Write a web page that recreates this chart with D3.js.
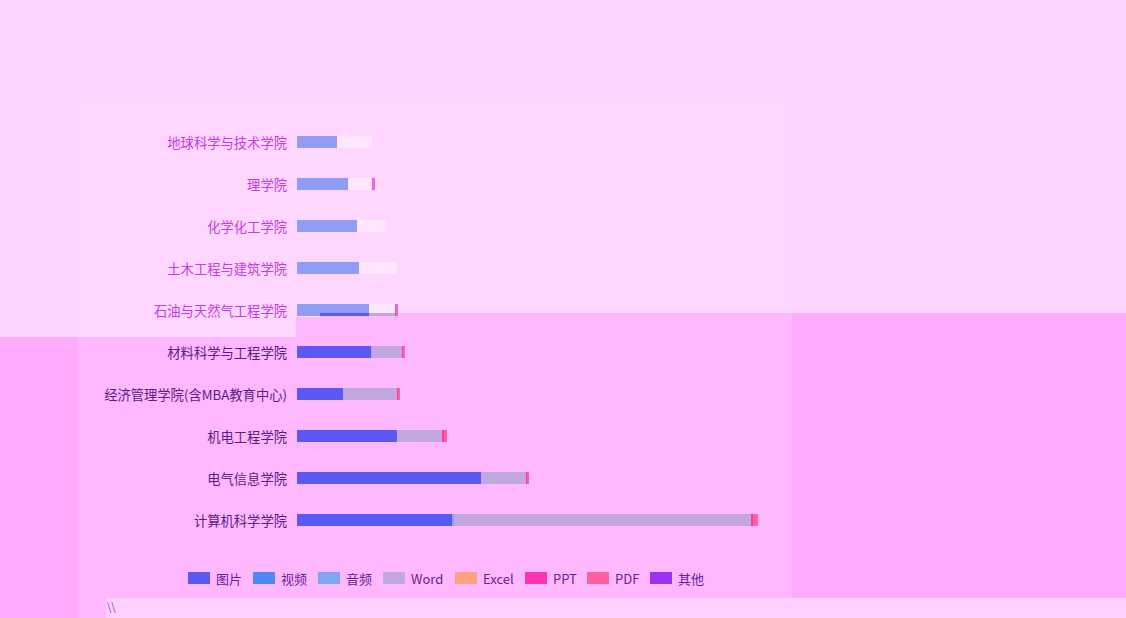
<!DOCTYPE html>
<html><head><meta charset="utf-8">
<script src="https://cdn.jsdelivr.net/npm/d3@7/dist/d3.min.js"></script>
<style>html,body{margin:0;padding:0;background:#ffaafc;overflow:hidden}svg{display:block}</style>
</head><body>
<svg id="c" width="1126" height="618"></svg>
<script>
const categories = ["地球科学与技术学院","理学院","化学化工学院","土木工程与建筑学院","石油与天然气工程学院","材料科学与工程学院","经济管理学院(含MBA教育中心)","机电工程学院","电气信息学院","计算机科学学院"];
const seriesNames = ["图片","视频","音频","Word","Excel","PPT","PDF","其他"];
const imgVals   = [40, 51, 60, 62, 72, 74, 46, 100, 184, 155];
const videoVals = [0, 0, 0, 0, 0, 0, 0, 0, 0, 0];
const audioVals = [0, 0, 0, 0, 0, 0, 0, 0, 0, 2];
const wordVals  = [35, 24, 30, 38, 26, 31, 54, 45, 45, 297];
const excelVals = [0, 0, 0, 0, 0, 0, 0, 0, 0, 0];
const pptVals   = [0, 1, 0, 0, 1, 1, 1, 2, 1, 2];
const pdfVals   = [0, 2, 0, 0, 2, 2, 2, 3, 2, 5];
const otherVals = [0, 0, 0, 0, 0, 0, 0, 0, 0, 0];
const seriesVals = [imgVals, videoVals, audioVals, wordVals, excelVals, pptVals, pdfVals, otherVals];

const lowPal = {
  bg:"#ffaafc", panel:"#ffb8ff", panelStroke:"#ffb2fd", label:"#5a1c88", legendText:"#66229a",
  colors:["#5a5af3","#4f86f5","#7fa5f5","#c2a6e0","#ffa07e","#ff32b0","#ff5f9e","#9b32f0"]
};
const topPal = {
  bg:"#ffd4ff", panel:"#ffd6ff", panelStroke:"#ffd0fe", label:"#c23ee2", legendText:"#c23ee2",
  colors:["#8f9df5","#9fb8fb","#b8cafb","#ffe6ff","#ffd0d0","#f25ed2","#f266cc","#cf7af8"]
};

const rows = categories.map((c,i)=>{const o={cat:c}; seriesNames.forEach((s,j)=>o[s]=seriesVals[j][i]); return o;});
const stacked = d3.stack().keys(seriesNames)(rows);

const x = d3.scaleLinear().domain([0, 500]).range([297, 797]);
const y = d3.scalePoint().domain(categories).range([142, 520]);
const barH = 12;

const svg = d3.select("#c");
const font = "'Noto Sans CJK SC','Noto Sans',sans-serif";

function drawChart(g, pal){
  g.append("rect").attr("x",0).attr("y",0).attr("width",1126).attr("height",618).attr("fill",pal.bg);
  g.append("rect").attr("x",78).attr("y",102).attr("width",714).attr("height",520)
    .attr("fill",pal.panel).attr("stroke",pal.panelStroke).attr("stroke-width",1);
  g.selectAll("g.s").data(stacked).join("g").attr("class","s").attr("fill",(d,i)=>pal.colors[i])
    .selectAll("rect").data(d=>d).join("rect")
    .attr("x",d=>x(d[0])).attr("width",d=>Math.max(0,x(d[1])-x(d[0])))
    .attr("y",d=>y(d.data.cat)-barH/2).attr("height",barH);
  g.selectAll("text.lab").data(categories).join("text").attr("class","lab")
    .attr("x",287).attr("y",d=>y(d)+1).attr("dy","0.35em").attr("text-anchor","end")
    .attr("font-family",font).attr("font-size",13.3).attr("fill",pal.label).text(d=>d);
  const legX = [188,253,318,383,455,525,587,650];
  const lg = g.selectAll("g.leg").data(seriesNames).join("g").attr("class","leg")
    .attr("transform",(d,i)=>`translate(${legX[i]},578)`);
  lg.append("rect").attr("x",0).attr("y",-6).attr("width",22).attr("height",12).attr("fill",(d,i)=>pal.colors[i]);
  lg.append("text").attr("x",28).attr("y",1).attr("dy","0.35em").attr("font-family",font).attr("font-size",13)
    .attr("fill",pal.legendText).text(d=>d);
}

const lowG = svg.append("g");
drawChart(lowG, lowPal);
lowG.append("rect").attr("x",106).attr("y",598).attr("width",1020).attr("height",20).attr("fill","#ffd0ff");
lowG.append("text").attr("x",107).attr("y",611).attr("font-family",font).attr("font-size",11).attr("fill","#8a3ab0").text("\\\\");

svg.append("defs").append("clipPath").attr("id","topclip").append("path")
  .attr("d","M0,0H1126V313H320V317H296V337H0Z");
const topG = svg.append("g").attr("clip-path","url(#topclip)");
drawChart(topG, topPal);
</script>
</body></html>
